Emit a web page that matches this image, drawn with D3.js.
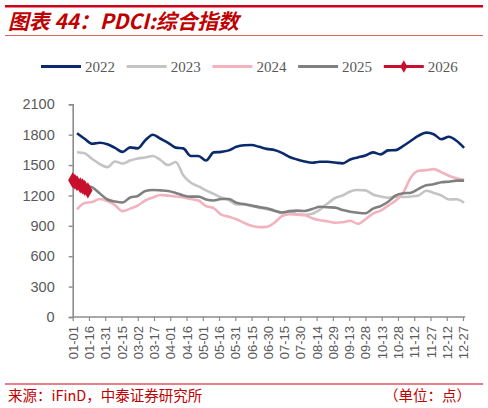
<!DOCTYPE html>
<html><head><meta charset="utf-8">
<script src="https://cdn.jsdelivr.net/npm/d3@7"></script>
<style>
html,body{margin:0;padding:0;background:#fff;}
svg{display:block;}
</style></head>
<body>
<svg id="chart" width="488" height="408"></svg>
<script>
// ---- data ----
const seriesNames = ["2022","2023","2024","2025","2026"];
const dates = ["01-05","01-12","01-19","01-26","02-02","02-09","02-16","02-23","03-02","03-09",
  "03-16","03-23","03-30","04-06","04-13","04-20","04-27","05-04","05-11","05-18",
  "05-25","06-01","06-08","06-15","06-22","06-29","07-06","07-13","07-20","07-27",
  "08-03","08-10","08-17","08-24","08-31","09-07","09-14","09-21","09-28","10-05",
  "10-12","10-19","10-26","11-02","11-09","11-16","11-23","11-30","12-07","12-14",
  "12-21","12-28"];
const v2022 = [1815,1760,1710,1720,1705,1670,1630,1675,1665,1745,
  1800,1760,1720,1672,1665,1590,1590,1545,1625,1630,
  1645,1680,1695,1698,1680,1660,1648,1620,1580,1555,
  1535,1523,1533,1533,1525,1517,1555,1575,1595,1625,
  1606,1645,1648,1690,1740,1790,1820,1805,1755,1780,
  1740,1670];
const v2023 = [1626,1616,1560,1510,1480,1535,1515,1545,1565,1575,
  1589,1550,1500,1530,1400,1325,1290,1250,1215,1180,
  1155,1110,1110,1095,1080,1065,1050,1025,1040,1015,
  1010,1020,1060,1120,1175,1200,1240,1254,1250,1210,
  1190,1178,1188,1185,1190,1200,1247,1225,1200,1160,
  1162,1128];
const v2024 = [1063,1125,1135,1165,1145,1105,1045,1070,1100,1150,
  1180,1205,1198,1190,1181,1165,1150,1095,1075,1010,
  990,965,930,900,887,890,930,995,1015,1010,
  1005,975,955,945,931,935,951,920,965,1020,
  1050,1100,1150,1230,1380,1444,1450,1460,1430,1395,
  1369,1355];
const v2025 = [1330,1300,1280,1220,1160,1140,1130,1180,1195,1245,
  1254,1250,1244,1225,1200,1188,1188,1160,1150,1165,
  1165,1128,1115,1100,1085,1073,1050,1032,1045,1050,
  1046,1066,1088,1083,1080,1056,1040,1030,1025,1070,
  1095,1138,1200,1222,1227,1265,1300,1310,1330,1336,
  1346,1346];
const dates2026 = ["01-01","01-03","01-05","01-08","01-10","01-12","01-15"];
const v2026 = [1350,1335,1320,1300,1290,1275,1250];
const xTickLabels = ["01-01","01-16","01-31","02-15","03-02","03-17","04-01","04-16","05-01",
  "05-16","05-31","06-15","06-30","07-15","07-30","08-14","08-29","09-13","09-28",
  "10-13","10-28","11-12","11-27","12-12","12-27"];
const yTicks = [0,300,600,900,1200,1500,1800,2100];
const colors = ["#0B2A6E","#C4C4C4","#F2B3BF","#808080","#C8102E"];

// ---- helpers ----
const parse = d3.timeParse("%m-%d");
const dayOf = s => { const t = parse(s); return d3.timeDay.count(d3.timeYear(t), t); };

const svg = d3.select("#chart");
const x = d3.scaleLinear().domain([0,360]).range([72.7,463]);
const y = d3.scaleLinear().domain([0,2100]).range([317,104.3]);

const red = "#C00000";
// title block
svg.append("rect").attr("x",5).attr("y",5).attr("width",478).attr("height",2.5).attr("fill","#D0021B");
svg.append("text").attr("x",8).attr("y",28.5)
  .attr("font-family","'Noto Sans CJK SC','Liberation Sans',sans-serif")
  .attr("font-size",20.8).attr("font-weight","bold").attr("font-style","italic")
  .attr("fill",red).text("图表 44：PDCI:综合指数");
svg.append("rect").attr("x",5).attr("y",35).attr("width",478).attr("height",1).attr("fill","#E06060");

// legend
const legend = svg.append("g");
seriesNames.forEach((n,i)=>{
  const lx = 41 + i*85.7;
  const g = legend.append("g");
  g.append("line").attr("x1",lx).attr("x2",lx+40).attr("y1",66.5).attr("y2",66.5)
    .attr("stroke",colors[i]).attr("stroke-width",2.8);
  if(n==="2026"){
    g.append("path").attr("d",d3.symbol(d3.symbolDiamond,45)())
      .attr("transform",`translate(${lx+20},66.5)`).attr("fill",colors[i]);
  }
  g.append("text").attr("x",lx+44).attr("y",71.5)
    .attr("font-family","'Liberation Serif','DejaVu Serif',serif").attr("font-size",15)
    .attr("fill","#595959").text(n);
});

// axes
const axisColor = "#8C8C8C";
const yAxis = svg.append("g").attr("transform","translate(72.7,0)")
  .call(d3.axisLeft(y).tickValues(yTicks).tickSize(4).tickPadding(14).tickFormat(d3.format("d")));
yAxis.select(".domain").attr("stroke",axisColor).attr("stroke-width",1.6);
yAxis.selectAll(".tick line").attr("stroke",axisColor).attr("stroke-width",1.4);
yAxis.selectAll("text").attr("font-family","'Liberation Sans',Arial,sans-serif")
  .attr("font-size",14.5).attr("fill","#595959");

const xAxis = svg.append("g").attr("transform","translate(0,317)")
  .call(d3.axisBottom(x).tickValues(xTickLabels.map(dayOf)).tickSize(4).tickSizeOuter(0)
    .tickFormat((d,i)=>xTickLabels[i]));
xAxis.select(".domain").attr("stroke",axisColor).attr("stroke-width",1.6)
  .attr("d",`M${x(0)},0H${x(362)}`);
xAxis.selectAll(".tick line").attr("stroke",axisColor).attr("stroke-width",1.2);
xAxis.selectAll("text").attr("font-family","'Liberation Sans',Arial,sans-serif")
  .attr("font-size",13).attr("fill","#595959")
  .attr("text-anchor","end").attr("transform","rotate(-90)")
  .attr("x",-9).attr("y",0).attr("dy","0.35em");

// lines
const line = d3.line().x(d=>x(d[0])).y(d=>y(d[1])).curve(d3.curveMonotoneX);
const dayGrid = dates.map(dayOf);
[v2022,v2023,v2024,v2025].forEach((vals,i)=>{
  const pts = vals.map((v,j)=>[dayGrid[j],v]);
  svg.append("path").datum(pts).attr("d",line).attr("fill","none")
    .attr("stroke",colors[i]).attr("stroke-width",2.6).attr("stroke-linejoin","round");
});
const pts26 = v2026.map((v,j)=>[dayOf(dates2026[j]),v]);
svg.append("path").datum(pts26).attr("d",line).attr("fill","none")
  .attr("stroke",colors[4]).attr("stroke-width",3);
svg.selectAll(".m26").data(pts26).enter().append("path")
  .attr("d",d3.symbol(d3.symbolDiamond,75)())
  .attr("transform",d=>`translate(${x(d[0])},${y(d[1])})`).attr("fill",colors[4]);

// footer
svg.append("rect").attr("x",5).attr("y",383.5).attr("width",478).attr("height",1).attr("fill","#D0021B");
svg.append("text").attr("x",8).attr("y",400.5)
  .attr("font-family","'Noto Sans CJK SC',sans-serif").attr("font-size",14.5).attr("fill",red)
  .text("来源：iFinD，中泰证券研究所");
svg.append("text").attr("x",471).attr("y",400.5).attr("text-anchor","end")
  .attr("font-family","'Noto Sans CJK SC',sans-serif").attr("font-size",14.5).attr("fill",red)
  .text("（单位：点）");
</script>
</body></html>
